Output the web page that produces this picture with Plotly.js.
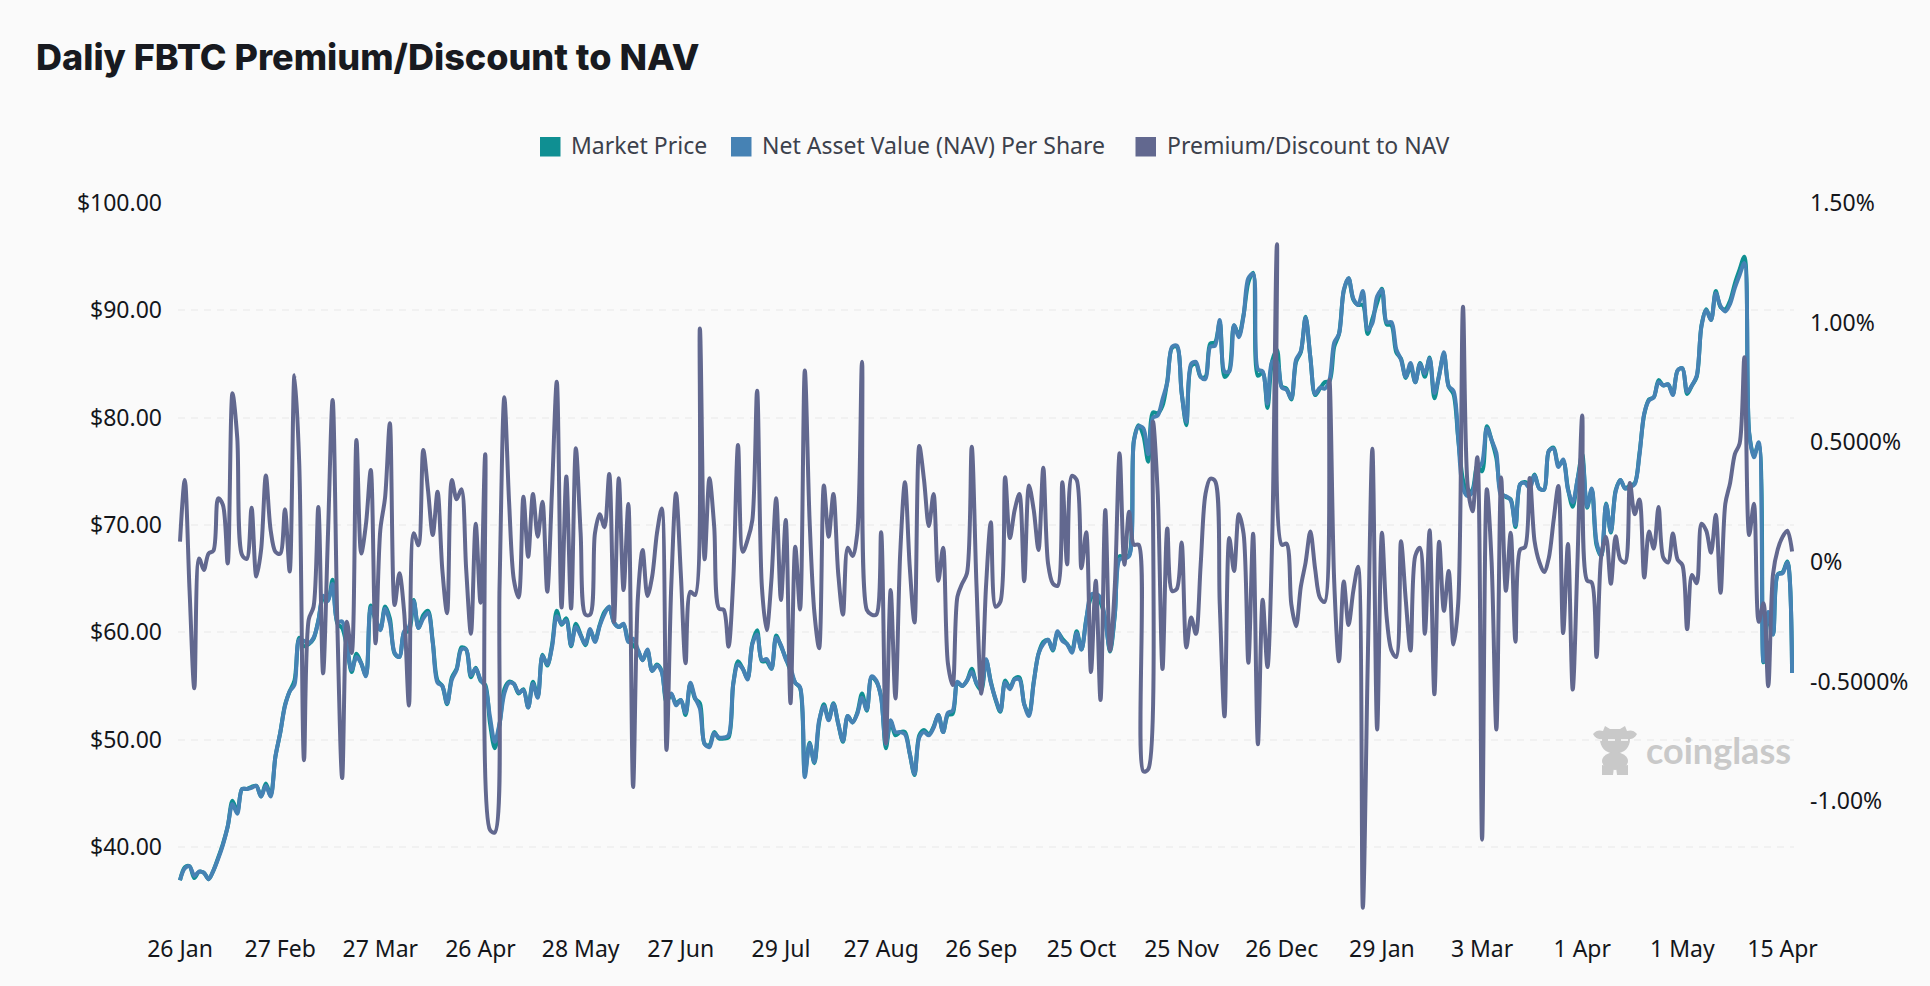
<!DOCTYPE html>
<html>
<head>
<meta charset="utf-8">
<script src="https://cdn.plot.ly/plotly-3.0.1.min.js"></script>
<style>
    html, body { margin: 0; padding: 0; background: #fafafa; }
    #chart { width: 1930px; height: 986px; }
</style>
</head>
<body>
<div id="chart"></div>
<script>
/* ── Data, one value per trading session ── */
const TICK_LABELS = ['26 Jan','27 Feb','27 Mar','26 Apr','28 May','27 Jun','29 Jul','27 Aug','26 Sep',
    '25 Oct','25 Nov','26 Dec','29 Jan','3 Mar','1 Apr','1 May','15 Apr'];
const SESSIONS_PER_TICK = 21;

const NAV = [
    36.9,38.0,38.2,37.3,37.7,37.6,37.0,37.8,38.9,40.2,41.9,44.0,43.1,45.4,45.4,45.5,45.7,44.7,45.7,44.7,
    48.4,50.6,53.1,54.5,55.1,59.3,59.2,59.0,59.5,61.0,63.4,62.9,64.5,61.0,61.0,58.7,56.5,57.7,57.1,55.9,
    62.3,61.3,60.2,62.2,60.9,58.1,57.7,60.1,60.5,62.9,60.4,61.3,61.8,59.0,55.3,55.0,53.4,55.6,56.5,58.4,
    58.4,56.0,56.6,55.6,54.9,52.1,49.8,51.5,54.3,55.3,55.2,54.4,54.6,53.0,55.2,53.9,57.8,57.0,58.6,61.5,
    60.8,61.1,58.8,60.5,59.7,58.9,60.3,59.1,60.6,61.7,62.4,60.9,60.5,60.8,59.1,59.4,58.4,57.4,58.4,56.4,
    56.9,56.3,53.9,54.3,53.2,53.7,52.5,55.3,53.9,52.9,49.6,49.3,50.6,50.2,50.2,50.4,55.2,57.0,56.6,55.6,
    58.9,59.8,57.4,57.5,56.6,59.5,58.8,57.5,56.7,55.3,54.9,46.5,49.6,47.9,51.8,53.1,51.8,53.3,51.5,49.9,
    52.2,51.6,52.4,53.9,52.8,55.9,55.5,53.9,49.6,51.8,50.7,50.7,50.5,48.7,46.8,50.2,50.7,50.4,51.1,52.3,
    50.7,52.5,52.7,55.4,55.0,55.5,56.3,55.3,54.9,57.5,55.3,53.8,52.7,55.3,54.7,55.6,55.6,53.3,52.2,55.3,
    58.0,58.9,59.3,58.4,60.1,59.2,58.9,58.1,59.9,58.4,61.1,63.5,63.6,63.2,61.1,58.4,61.7,66.8,66.9,67.1,
    77.8,79.2,79.0,76.6,80.0,80.2,81.7,83.3,86.6,86.7,82.3,79.6,85.0,85.2,83.8,83.6,86.6,86.7,89.1,84.3,
    84.3,88.6,87.5,89.5,93.0,93.4,84.5,84.3,81.3,85.2,85.2,82.8,82.6,81.8,85.4,86.2,89.3,85.6,82.2,82.8,
    82.7,83.5,87.0,87.8,91.9,93.0,91.1,90.5,91.8,88.2,88.8,91.3,91.9,88.9,88.9,86.4,85.4,83.8,85.1,83.3,
    85.0,84.1,85.5,82.3,83.9,86.1,82.9,82.5,78.1,73.4,72.7,73.1,75.2,75.8,79.0,77.9,76.7,72.7,72.7,72.3,
    70.0,73.8,73.9,73.4,74.6,73.4,73.3,76.9,77.1,75.4,76.1,73.3,72.1,74.2,76.1,71.7,73.4,68.4,67.1,71.9,
    69.4,73.1,74.2,73.4,73.5,73.8,76.5,80.4,81.6,81.9,83.3,83.0,83.1,82.1,84.4,84.6,82.4,83.0,83.9,88.5,
    90.0,89.1,91.6,90.4,89.9,90.6,92.1,93.3,94.4,78.5,76.3,77.7,57.3,61.9,59.8,65.4,65.5,66.5,56.2
];

const MARKET_PRICE = [
    36.9,38.1,38.2,37.1,37.7,37.6,37.0,37.8,39.0,40.3,41.9,44.3,43.3,45.4,45.4,45.6,45.7,44.7,45.9,44.8,
    48.4,50.6,53.2,54.5,55.5,59.5,58.7,58.9,59.4,61.1,63.1,63.0,64.9,60.8,60.4,58.6,56.3,58.0,57.1,56.0,
    62.5,61.1,60.3,62.4,61.3,58.0,57.7,60.0,60.1,63.0,60.4,61.6,62.0,59.1,55.5,55.0,53.3,55.8,56.6,58.6,
    58.4,55.8,56.7,55.5,55.1,51.5,49.2,51.4,54.7,55.4,55.2,54.3,54.7,53.0,55.4,54.0,57.9,56.9,58.8,62.0,
    60.7,61.3,58.7,60.8,59.8,58.8,60.2,59.2,60.7,61.9,62.3,60.9,60.5,60.7,59.2,58.8,58.3,57.4,58.3,56.4,
    57.0,56.4,53.5,54.2,53.4,53.7,52.3,55.2,53.8,53.4,49.6,49.5,50.7,50.1,50.1,50.2,55.2,57.3,56.6,55.7,
    59.0,60.2,57.3,57.3,56.6,59.7,58.7,57.6,56.4,55.3,54.8,46.9,49.7,47.8,51.6,53.3,51.9,53.4,51.5,49.8,
    52.2,51.6,52.5,54.3,52.7,55.8,55.4,54.0,49.2,51.7,50.4,50.7,50.7,48.7,46.7,50.4,50.9,50.5,51.2,52.3,
    50.7,52.3,52.4,55.3,55.0,55.5,56.6,55.2,54.6,57.4,55.4,53.7,52.6,55.5,54.8,55.7,55.8,53.3,52.4,55.4,
    58.0,59.1,59.3,58.3,60.0,59.4,58.9,58.3,60.1,58.4,61.2,63.2,63.6,62.8,61.2,58.2,61.6,67.1,66.9,67.2,
    77.9,79.3,78.3,75.9,80.5,80.4,81.1,83.4,86.5,86.6,82.4,79.3,84.8,85.0,83.8,83.8,86.9,87.0,88.9,83.8,
    84.4,88.6,87.7,89.6,92.6,93.5,83.9,84.2,80.9,85.3,86.3,82.9,82.7,81.7,85.2,86.1,89.4,85.6,82.1,82.7,
    83.3,83.4,86.6,87.8,91.8,93.0,91.0,90.5,90.5,87.8,89.2,90.7,92.0,88.7,88.6,86.1,85.5,83.7,84.8,83.3,
    85.1,83.8,85.6,81.8,84.0,85.9,82.9,82.2,78.0,74.2,72.9,73.3,75.5,75.0,79.2,77.9,76.2,73.0,72.6,72.4,
    69.8,73.8,74.0,73.7,74.7,73.4,73.3,76.9,77.2,75.6,75.9,73.4,71.7,74.2,76.6,71.6,73.3,68.1,67.1,72.0,
    69.3,73.2,74.2,73.4,73.7,73.9,76.7,80.3,81.7,81.9,83.5,83.0,83.1,82.2,84.4,84.6,82.2,83.0,83.8,88.6,
    90.1,89.1,91.8,90.3,90.1,90.9,92.5,93.8,95.0,78.6,76.5,77.5,57.2,61.6,59.8,65.4,65.6,66.6,56.2
];

const PREMIUM = [
    .085,.343,-.117,-.528,.015,-.033,.036,.047,.266,.238,-.006,.705,.52,.03,.013,.227,-.061,.05,.361,.134,
    .043,.034,.22,-.04,.78,.41,-.828,-.24,-.187,.23,-.465,.1,.677,-.27,-.903,-.25,-.38,.51,.036,.16,
    .384,-.34,.134,.27,.58,-.18,-.047,-.21,-.60,.12,.07,.468,.30,.113,.294,-.033,-.214,.343,.262,.304,
    -.03,-.30,.16,-.17,.45,-1.12,-1.13,-.10,.688,.25,-.075,-.148,.273,.022,.284,.106,.252,-.124,.30,.753,
    -.19,.357,-.194,.475,.12,-.22,-.22,.12,.20,.145,.368,-.25,.35,-.117,.242,-.94,-.15,.05,-.142,-.06,
    .12,.224,-.785,-.10,.287,-.047,-.423,-.124,-.138,.976,.011,.35,.148,-.194,-.20,-.354,-.075,.489,.043,.092,
    .175,.716,-.103,-.284,-.075,.266,-.159,.175,-.59,.064,-.198,.80,.175,-.21,-.36,.32,.106,.284,-.047,-.22,
    .06,.025,.12,.837,-.2,-.22,-.22,.124,-.757,-.117,-.57,.036,.333,-.02,-.253,.485,.343,.15,.284,-.078,
    .06,-.423,-.514,-.145,-.09,-.047,.482,-.10,-.55,-.10,.166,-.187,-.166,.354,.10,.217,.284,-.08,.32,.217,
    .05,.394,-.006,-.09,-.10,.333,-.01,.36,.343,-.026,.124,-.46,-.078,-.577,.217,-.37,-.10,.454,-.011,.21,
    .072,.072,-.875,-.866,.587,.283,-.447,.14,-.121,-.112,.081,-.357,-.232,-.30,-.011,.283,.348,.339,-.176,-.645,
    .10,-.038,.2,.118,-.421,.118,-.761,-.158,-.439,.10,1.328,.072,.077,-.176,-.268,-.103,-.002,.127,-.029,-.149,
    -.167,.762,-.084,-.415,-.081,-.263,-.121,-.02,-1.445,-.45,.473,-.70,.122,-.232,-.37,-.397,.087,-.158,-.37,.026,
    .059,-.30,.133,-.553,.085,-.204,-.038,-.345,-.172,1.066,.313,.212,.438,-1.16,.304,.0,-.70,.353,-.12,.122,
    -.333,.053,.062,.351,.088,.0,-.042,.018,.174,.318,-.297,.075,-.533,.0,.612,-.077,-.086,-.397,.027,.105,
    -.091,.108,.01,-.002,.33,.20,.261,-.065,.127,.056,.23,.018,-.002,.119,.01,-.013,-.28,-.054,-.089,.16,
    .131,.039,.197,-.129,.243,.33,.451,.495,.855,.113,.243,-.25,-.172,-.519,-.051,.053,.105,.131,.044
];

const LEFT_TICKS  = [100, 90, 80, 70, 60, 50, 40];
const RIGHT_TICKS = [1.5, 1, 0.5, 0, -0.5, -1];
const RIGHT_LABELS = ['1.50%', '1.00%', '0.5000%', '0%', '-0.5000%', '-1.00%'];

const LEGEND_NAMES  = ['Market Price', 'Net Asset Value (NAV) Per Share', 'Premium/Discount to NAV'];
const LEGEND_COLORS = ['#0f8f92', '#4682b4', '#62688f'];
const LEGEND_LEFT   = [540, 731, 1135.5];

/* ── Plot box in page pixels ── */
const BOX = { l: 178, r: 1794, t: 203, b: 921 };
const px = x => (x - BOX.l) / (BOX.r - BOX.l);
const py = y => (BOX.b - y) / (BOX.b - BOX.t);

const FONT = 'Noto Sans';
const sessions = PREMIUM.map((_, i) => i);
const axisMin = 33.1;

const COW = 'data:image/svg+xml;utf8,' + encodeURIComponent(
    '<svg xmlns="http://www.w3.org/2000/svg" viewBox="0 0 44 50"><g fill="#c9c9c9">' +
    '<path d="M0 9 C3 5 7 5 10 6 L12 1 L17 4 L27 4 L32 1 L34 6 C37 5 41 5 44 9 C42 13 39 14 37 14 C37 22 32 28 22 29 C12 28 7 22 7 14 C5 14 2 13 0 9Z"/>' +
    '<ellipse cx="22" cy="36" rx="13" ry="9"/>' +
    '<path d="M9 40 L9 50 L20 50 L21 42Z M23 42 L24 50 L35 50 L35 40Z"/></g></svg>');

const traces = [
    { name: LEGEND_NAMES[0], y: MARKET_PRICE, color: LEGEND_COLORS[0], axis: 'y' },
    { name: LEGEND_NAMES[1], y: NAV,          color: LEGEND_COLORS[1], axis: 'y' },
    { name: LEGEND_NAMES[2], y: PREMIUM,      color: LEGEND_COLORS[2], axis: 'y2' }
].map(s => ({
    x: sessions, y: s.y, name: s.name, yaxis: s.axis,
    type: 'scatter', mode: 'lines',
    line: { color: s.color, width: 4, shape: 'spline', smoothing: 0.9 },
    hoverinfo: 'skip', showlegend: false
}));

/* Legend has square swatches, plotly's line legend can't do those */
const legendShapes = LEGEND_COLORS.map((c, i) => ({
    type: 'rect', xref: 'paper', yref: 'paper',
    x0: px(LEGEND_LEFT[i]), x1: px(LEGEND_LEFT[i] + 20.5),
    y0: py(156.5), y1: py(137),
    fillcolor: c, line: { width: 0 }
}));
const legendText = LEGEND_NAMES.map((name, i) => ({
    text: name, xref: 'paper', yref: 'paper',
    x: px(LEGEND_LEFT[i] + 29), y: py(145), xanchor: 'left', yanchor: 'middle',
    showarrow: false, font: { family: FONT, size: 23, color: '#3c414c' }
}));

const layout = {
    width: 1930, height: 986,
    paper_bgcolor: '#fafafa', plot_bgcolor: '#fafafa',
    margin: { l: BOX.l, r: 1930 - BOX.r, t: BOX.t, b: 986 - BOX.b, pad: 0 },
    showlegend: false,
    title: {
        text: 'Daliy FBTC Premium/Discount to NAV',
        xref: 'container', yref: 'container',
        x: 36 / 1930, xanchor: 'left', y: 1 - 57 / 986, yanchor: 'middle',
        font: { family: 'Inter', size: 36, weight: 800, color: '#181a20' }
    },
    xaxis: {
        range: [-0.42, 338.4],
        tickmode: 'array',
        tickvals: TICK_LABELS.map((_, i) => i * SESSIONS_PER_TICK),
        ticktext: TICK_LABELS,
        showgrid: false, zeroline: false, showline: false, ticks: '',
        ticklabelstandoff: 12,
        tickfont: { family: FONT, size: 23, color: '#14161b' }
    },
    yaxis: {
        range: [axisMin, 100],
        tickmode: 'array',
        tickvals: [...LEFT_TICKS, axisMin],
        ticktext: [...LEFT_TICKS.map(v => `$${v.toFixed(2)}`), ''],
        gridcolor: '#f1f1f1', gridwidth: 2, griddash: '7px,6px',
        zeroline: false, showline: false, ticks: '',
        ticklabelstandoff: 15,
        tickfont: { family: FONT, size: 23, color: '#14161b' }
    },
    yaxis2: {
        overlaying: 'y', side: 'right',
        range: [-1.5, 1.5],
        tickmode: 'array',
        tickvals: RIGHT_TICKS,
        ticktext: RIGHT_LABELS,
        showgrid: false, zeroline: false, showline: false, ticks: '',
        ticklabelstandoff: 15,
        tickfont: { family: FONT, size: 23, color: '#14161b' }
    },
    shapes: legendShapes,
    annotations: [
        ...legendText,
        {
            text: '<b>coinglass</b>', xref: 'paper', yref: 'paper',
            x: px(1793), y: py(750), xanchor: 'right', yanchor: 'middle',
            showarrow: false, font: { family: 'Lato', size: 36, color: '#c9c9c9' }
        }
    ],
    images: [{
        source: COW, xref: 'paper', yref: 'paper',
        x: px(1593), y: py(725), sizex: 44 / (BOX.r - BOX.l), sizey: 50 / (BOX.b - BOX.t),
        xanchor: 'left', yanchor: 'top', layer: 'below'
    }]
};

document.addEventListener('DOMContentLoaded', () => {
    Plotly.newPlot('chart', traces, layout, { displayModeBar: false, responsive: false });
});
</script>
</body>
</html>
